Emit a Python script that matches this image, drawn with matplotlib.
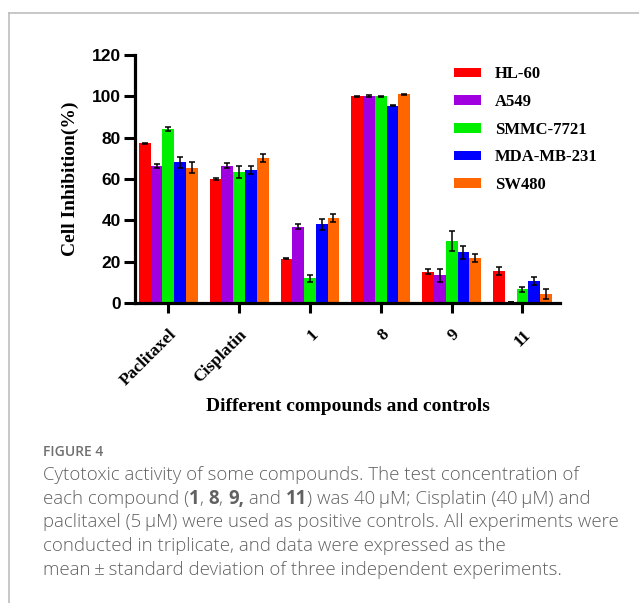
import numpy as np
import matplotlib
matplotlib.use("Agg")
import matplotlib.pyplot as plt
from matplotlib.lines import Line2D

# data
compounds = ["Paclitaxel", "Cisplatin", "1", "8", "9", "11"]
cell_lines = ["HL-60", "A549", "SMMC-7721", "MDA-MB-231", "SW480"]
colors = ["#ff0000", "#a000e0", "#00ee00", "#0000ff", "#ff6600"]

hl60 = [77.2, 60.0, 21.5, 100.0, 15.2, 15.5]
a549 = [66.3, 66.5, 37.0, 100.2, 13.4, 0.5]
smmc = [84.2, 63.5, 12.0, 100.0, 30.0, 6.6]
mda = [68.0, 64.5, 38.0, 95.5, 24.5, 10.6]
sw480 = [65.5, 70.0, 41.0, 101.0, 21.6, 4.2]

hl60_sd = [0.3, 0.5, 0.4, 0.3, 1.2, 2.0]
a549_sd = [1.0, 1.2, 1.0, 0.3, 3.0, 0.2]
smmc_sd = [1.0, 3.0, 1.7, 0.3, 5.0, 1.3]
mda_sd = [2.5, 2.0, 2.5, 0.3, 3.0, 2.0]
sw480_sd = [2.5, 2.0, 2.0, 0.3, 2.0, 2.5]

values = [hl60, a549, smmc, mda, sw480]
errors = [hl60_sd, a549_sd, smmc_sd, mda_sd, sw480_sd]

W, H = 639, 603
fig = plt.figure(figsize=(W / 100, H / 100), dpi=100)

# grey frame of the journal page
fig.add_artist(Line2D([9 / W, 9 / W], [0, 1 - 13 / H], color="#bdbdbd", lw=1.2))
fig.add_artist(Line2D([9 / W, 1], [1 - 13 / H, 1 - 13 / H], color="#bdbdbd", lw=1.2))

ax = fig.add_axes([135 / W, 1 - 303 / H, 425 / W, 248 / H])

x = np.arange(len(compounds))
w = 0.166
for i, (vals, sd) in enumerate(zip(values, errors)):
    ax.bar(x + (i - 2) * w, vals, w, color=colors[i], label=cell_lines[i],
           yerr=sd, capsize=2.2, error_kw=dict(elinewidth=1.1, capthick=1.1, ecolor="black"))

ax.set_xlim(-0.47, 5.53)
ax.set_ylim(0, 120)
ax.set_yticks(range(0, 121, 20))
ax.set_xticks(x)
ax.set_xticklabels(compounds, rotation=45, ha="right", va="top", rotation_mode="anchor",
                   fontfamily="Liberation Serif", fontweight="bold", fontsize=12.5)
for lab in ax.get_yticklabels():
    lab.set_fontfamily("Liberation Sans")
    lab.set_fontweight("bold")
    lab.set_fontsize(12.5)

for s in ["top", "right"]:
    ax.spines[s].set_visible(False)
for s in ["left", "bottom"]:
    ax.spines[s].set_linewidth(2.3)
ax.tick_params(axis="y", length=8, width=2.2, pad=2)
ax.tick_params(axis="x", length=7, width=2.2, pad=10)

ax.set_ylabel("Cell Inhibition(%)", fontfamily="Liberation Serif", fontweight="bold",
              fontsize=14, labelpad=9)
ax.set_xlabel("Different compounds and controls", fontfamily="Liberation Serif",
              fontweight="bold", fontsize=14, labelpad=6)

ax.legend(loc="upper left", bbox_to_anchor=(446 / W, 1 - 58 / H), bbox_transform=fig.transFigure,
          frameon=False, borderpad=0, handlelength=1.6, handleheight=0.5, handletextpad=0.85,
          labelspacing=0.70, prop=dict(family="Liberation Serif", weight="bold", size=12))

# caption
renderer = fig.canvas.get_renderer()
cap_color = "#616161"
fam = ["Open Sans", "DejaVu Sans"]
cap_size = 13.4
cap_weight = 300


def seg_width(s, bold):
    wt = "bold" if bold else cap_weight
    t1 = fig.text(0, 0, "X" + s + "X", family=fam, fontsize=cap_size, weight=wt)
    t2 = fig.text(0, 0, "XX", family=fam, fontsize=cap_size, weight=wt)
    wd = t1.get_window_extent(renderer).width - t2.get_window_extent(renderer).width
    t1.remove()
    t2.remove()
    return wd


def draw_line(y, segs):
    xp = 43.0
    for s, bold in segs:
        fig.text(xp / W, 1 - y / H, s, family=fam, fontsize=cap_size, color=cap_color,
                 weight="bold" if bold else cap_weight, va="center", ha="left")
        xp += seg_width(s, bold)


fig.text(43 / W, 1 - 452 / H, "FIGURE 4", family=fam, fontsize=10, color="#707070",
         weight="semibold", va="center", ha="left")

th = "\u2009"
lines = [
    [("Cytotoxic activity of some compounds. The test concentration of", False)],
    [("each compound (", False), ("1", True), (", ", False), ("8", True), (", ", False),
     ("9,", True), (" and ", False), ("11", True),
     (") was 40" + th + "\u00b5M; Cisplatin (40" + th + "\u00b5M) and", False)],
    [("paclitaxel (5" + th + "\u00b5M) were used as positive controls. All experiments were", False)],
    [("conducted in triplicate, and data were expressed as the", False)],
    [("mean\u2009\u00b1\u2009standard deviation of three independent experiments.", False)],
]
for k, segs in enumerate(lines):
    draw_line(475 + 23.7 * k, segs)

fig.savefig("out.png", dpi=100)
